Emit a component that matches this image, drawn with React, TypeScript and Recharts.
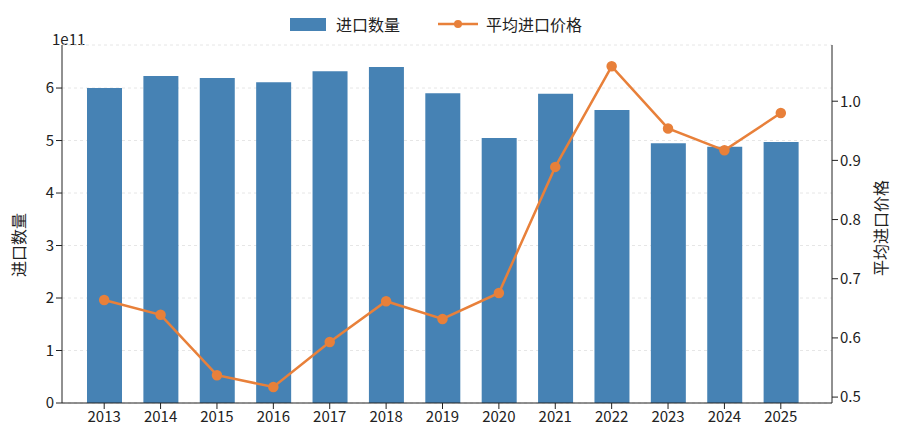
import { Bar, ComposedChart, CartesianGrid, Line, XAxis, YAxis } from 'recharts';

const years = ['2013', '2014', '2015', '2016', '2017', '2018', '2019', '2020', '2021', '2022', '2023', '2024', '2025'];
const quantity = [6.0e11, 6.23e11, 6.19e11, 6.11e11, 6.32e11, 6.4e11, 5.9e11, 5.05e11, 5.89e11, 5.58e11, 4.95e11, 4.88e11, 4.97e11];
const price = [0.664, 0.639, 0.537, 0.517, 0.593, 0.662, 0.632, 0.676, 0.889, 1.059, 0.954, 0.917, 0.98];
const leftTicks = [0, 1e11, 2e11, 3e11, 4e11, 5e11, 6e11];
const rightTicks = [0.5, 0.6, 0.7, 0.8, 0.9, 1.0];

const data = years.map((y, i) => ({ year: y, q: quantity[i], p: price[i] }));
const font = '"Noto Sans CJK SC", "Noto Sans", sans-serif';
const BLUE = '#4682b4';
const ORANGE = '#e8803a';

export default function App() {
  return (
    <div style={{ position: 'absolute', left: 0, top: 0, width: 900, height: 440, background: '#fff', fontFamily: font, color: '#222' }}>
      <div style={{ position: 'absolute', left: 52, top: 28, fontSize: 15 }}>1e11</div>
      <div style={{ position: 'absolute', left: 290, top: 12, display: 'flex', alignItems: 'center', fontSize: 16 }}>
        <span style={{ width: 36, height: 13, background: BLUE, marginRight: 10 }} />
        <span style={{ marginRight: 38 }}>进口数量</span>
        <svg width={40} height={12} style={{ marginRight: 8 }}>
          <line x1={0} y1={6} x2={40} y2={6} stroke={ORANGE} strokeWidth={2.5} />
          <circle cx={20} cy={6} r={4} fill={ORANGE} />
        </svg>
        <span>平均进口价格</span>
      </div>
      <div style={{ position: 'absolute', left: 18, top: 245, fontSize: 16, transform: 'translate(-50%,-50%) rotate(-90deg)', whiteSpace: 'nowrap' }}>进口数量</div>
      <div style={{ position: 'absolute', left: 880, top: 228, fontSize: 16, transform: 'translate(-50%,-50%) rotate(-90deg)', whiteSpace: 'nowrap' }}>平均进口价格</div>
      <ComposedChart width={900} height={440} data={data} margin={{ top: 45, right: 0, bottom: 0, left: 0 }}>
        <CartesianGrid vertical={false} yAxisId="left" stroke="#e6e6e6" strokeDasharray="3 3" />
        <XAxis dataKey="year" padding={{ left: 14, right: 23 }} height={37} tick={{ fontSize: 15, fill: '#222' }}
          tickLine={{ stroke: '#222' }} axisLine={{ stroke: '#222' }} />
        <YAxis yAxisId="left" width={62} domain={[0, 6.82e11]} ticks={leftTicks} tickFormatter={(v) => String(v / 1e11)}
          tick={{ fontSize: 15, fill: '#222' }} tickLine={{ stroke: '#222' }} axisLine={{ stroke: '#222' }} />
        <YAxis yAxisId="right" orientation="right" width={68} domain={[0.49, 1.095]} ticks={rightTicks}
          tickFormatter={(v) => v.toFixed(1)} tick={{ fontSize: 15, fill: '#222' }} tickLine={{ stroke: '#222' }}
          axisLine={{ stroke: '#222' }} />
        <Bar yAxisId="left" dataKey="q" name="进口数量" fill={BLUE} barSize={35} isAnimationActive={false} />
        <Line yAxisId="right" dataKey="p" name="平均进口价格" stroke={ORANGE} strokeWidth={2.5}
          dot={{ r: 4, fill: ORANGE, stroke: ORANGE }} isAnimationActive={false} />
      </ComposedChart>
    </div>
  );
}
